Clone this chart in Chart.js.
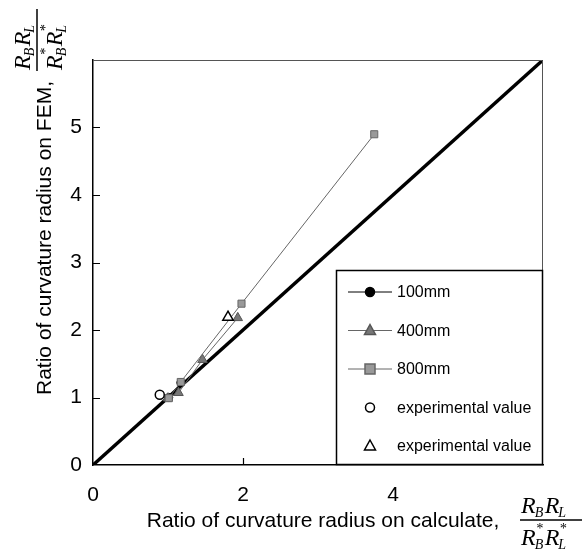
<!DOCTYPE html>
<html lang="en">
<head>
    <meta charset="UTF-8">
    <title>Ratio of curvature radius</title>
    <script src="https://cdn.jsdelivr.net/npm/chart.js"></script>
    <style>
        html, body { margin: 0; padding: 0; background: #fff; }
        #wrap { width: 587px; height: 556px; position: relative; }
    </style>
</head>
<body>
    <div id="wrap"><canvas id="myChart"></canvas></div>

    <script>
        // values (x = calculated ratio, y = FEM ratio)
        var diagX = [0, 6];
        var diagY = [0, 6];
        var x100 = [1.01, 1.17];
        var y100 = [1.00, 1.22];
        var x400 = [1.00, 1.14, 1.46, 1.93];
        var y400 = [0.99, 1.07, 1.56, 2.18];
        var x800 = [1.01, 1.17, 1.98, 3.75];
        var y800 = [0.99, 1.23, 2.39, 4.90];
        var xExpCircle = [0.89];
        var yExpCircle = [1.04];
        var xExpTri = [1.80];
        var yExpTri = [2.19];
        var seriesNames = ['100mm', '400mm', '800mm', 'experimental value', 'experimental value'];
        var xTicks = [0, 2, 4];
        var yTicks = [0, 1, 2, 3, 4, 5];

        function pts(xs, ys) {
            return xs.map(function (x, i) { return { x: x, y: ys[i] }; });
        }

        // R_B R_L / R*_B R*_L drawn around (0,0) = middle of the fraction bar
        function drawFrac(ctx) {
            var big = 'italic 24px "Liberation Serif", serif';
            var small = 'italic 14px "Liberation Serif", serif';
            var parts = function (y, star) {
                var x = -30;
                ctx.font = big; ctx.fillText('R', x, y); x += ctx.measureText('R').width;
                if (star) { ctx.font = small; ctx.fillText('*', x, y - 12); }
                ctx.font = small; ctx.fillText('B', x - 1, y + 4); x += 9;
                ctx.font = big; ctx.fillText('R', x, y); x += ctx.measureText('R').width;
                if (star) { ctx.font = small; ctx.fillText('*', x, y - 12); }
                ctx.font = small; ctx.fillText('L', x - 1, y + 4);
            };
            ctx.fillStyle = '#000';
            ctx.textAlign = 'left';
            ctx.textBaseline = 'alphabetic';
            parts(-7, false);
            parts(25, true);
            ctx.strokeStyle = '#000';
            ctx.lineWidth = 1.5;
            ctx.beginPath(); ctx.moveTo(-31, 0); ctx.lineTo(31, 0); ctx.stroke();
        }

        function drawMarker(ctx, style, x, y, fill, stroke) {
            ctx.save();
            ctx.fillStyle = fill; ctx.strokeStyle = stroke; ctx.lineWidth = 1.5;
            ctx.beginPath();
            if (style === 'circle') {
                ctx.arc(x, y, 4.5, 0, Math.PI * 2);
            } else if (style === 'triangle') {
                ctx.moveTo(x, y - 6); ctx.lineTo(x + 5.5, y + 4); ctx.lineTo(x - 5.5, y + 4); ctx.closePath();
            } else {
                ctx.rect(x - 5, y - 5, 10, 10);
            }
            ctx.fill(); ctx.stroke();
            ctx.restore();
        }

        var extras = {
            id: 'extras',
            afterDraw: function (chart) {
                var ctx = chart.ctx;
                var a = chart.chartArea;
                var xs = chart.scales.x, ys = chart.scales.y;
                ctx.save();

                // frame top / right
                ctx.strokeStyle = '#555';
                ctx.lineWidth = 1;
                ctx.beginPath();
                ctx.moveTo(a.left, a.top + 0.5); ctx.lineTo(a.right - 0.5, a.top + 0.5); ctx.lineTo(a.right - 0.5, a.bottom);
                ctx.stroke();

                // inward tick marks
                ctx.strokeStyle = '#000';
                ctx.lineWidth = 1.2;
                ctx.beginPath();
                yTicks.slice(1).forEach(function (v) {
                    var py = Math.round(ys.getPixelForValue(v)) + 0.5;
                    ctx.moveTo(a.left, py); ctx.lineTo(a.left + 7, py);
                });
                xTicks.slice(1).forEach(function (v) {
                    var px = Math.round(xs.getPixelForValue(v)) + 0.5;
                    ctx.moveTo(px, a.bottom); ctx.lineTo(px, a.bottom - 7);
                });
                ctx.stroke();

                // legend box inside plot
                var lx = 336, ly = 270;
                ctx.fillStyle = '#fff';
                ctx.fillRect(lx, ly, a.right - lx, a.bottom - ly);
                ctx.strokeStyle = '#000';
                ctx.lineWidth = 1.5;
                ctx.strokeRect(lx + 0.5, ly + 0.5, a.right - lx - 1, a.bottom - ly - 1);
                ctx.font = '16px "Liberation Sans", Arial, sans-serif';
                ctx.textBaseline = 'middle';
                ctx.textAlign = 'left';
                var rows = [
                    { line: '#000', m: 'circle', fill: '#000', stroke: '#000' },
                    { line: '#666', m: 'triangle', fill: '#777', stroke: '#555' },
                    { line: '#666', m: 'rect', fill: '#999', stroke: '#666' },
                    { line: null, m: 'circle', fill: '#fff', stroke: '#000' },
                    { line: null, m: 'triangle', fill: '#fff', stroke: '#000' }
                ];
                rows.forEach(function (r, i) {
                    var ry = 292 + i * 38.5;
                    if (r.line) {
                        ctx.strokeStyle = r.line; ctx.lineWidth = 1;
                        ctx.beginPath(); ctx.moveTo(348, ry); ctx.lineTo(392, ry); ctx.stroke();
                    }
                    drawMarker(ctx, r.m, 370, ry, r.fill, r.stroke);
                    ctx.fillStyle = '#000';
                    ctx.fillText(seriesNames[i], 397, ry + 1);
                });

                // x title
                ctx.font = '21px "Liberation Sans", Arial, sans-serif';
                ctx.fillStyle = '#000';
                ctx.textAlign = 'center';
                ctx.textBaseline = 'middle';
                ctx.fillText('Ratio of curvature radius on calculate,', 323, 521);
                ctx.save(); ctx.translate(551, 520); drawFrac(ctx); ctx.restore();

                // y title
                ctx.save();
                ctx.translate(45, 238);
                ctx.rotate(-Math.PI / 2);
                ctx.font = '21px "Liberation Sans", Arial, sans-serif';
                ctx.fillStyle = '#000';
                ctx.textAlign = 'center';
                ctx.textBaseline = 'middle';
                ctx.fillText('Ratio of curvature radius on FEM,', 0, 0);
                ctx.restore();
                ctx.save(); ctx.translate(37, 40); ctx.rotate(-Math.PI / 2); drawFrac(ctx); ctx.restore();

                ctx.restore();
            }
        };

        var ctx = document.getElementById('myChart').getContext('2d');
        var myChart = new Chart(ctx, {
            type: 'scatter',
            data: {
                datasets: [
                    { label: seriesNames[4], data: pts(xExpTri, yExpTri), order: 0, pointStyle: 'triangle', pointRadius: 6, backgroundColor: '#fff', borderColor: '#000', borderWidth: 1.5, showLine: false },
                    { label: seriesNames[3], data: pts(xExpCircle, yExpCircle), order: 1, pointStyle: 'circle', pointRadius: 4.5, backgroundColor: '#fff', borderColor: '#000', borderWidth: 1.5, showLine: false },
                    { label: seriesNames[2], data: pts(x800, y800), order: 2, showLine: true, borderColor: '#666', borderWidth: 1, pointStyle: 'rect', pointRadius: 5, pointBackgroundColor: '#999', pointBorderColor: '#666', pointBorderWidth: 1 },
                    { label: seriesNames[1], data: pts(x400, y400), order: 3, showLine: true, borderColor: '#666', borderWidth: 1, pointStyle: 'triangle', pointRadius: 5.5, pointBackgroundColor: '#777', pointBorderColor: '#555', pointBorderWidth: 1 },
                    { label: seriesNames[0], data: pts(x100, y100), order: 4, showLine: true, borderColor: '#000', borderWidth: 1, pointStyle: 'circle', pointRadius: 4, pointBackgroundColor: '#000', pointBorderColor: '#000' },
                    { label: 'diagonal', data: pts(diagX, diagY), order: 5, showLine: true, borderColor: '#000', borderWidth: 3.5, pointRadius: 0 }
                ]
            },
            options: {
                responsive: true,
                maintainAspectRatio: false,
                animation: false,
                layout: { padding: { top: 60, right: 44, left: 0, bottom: 0 } },
                plugins: { legend: { display: false }, tooltip: { enabled: false } },
                scales: {
                    x: {
                        type: 'linear', min: 0, max: 6,
                        afterBuildTicks: function (s) { s.ticks = xTicks.concat([6]).map(function (v) { return { value: v }; }); },
                        afterFit: function (s) { s.height = 91; },
                        grid: { drawOnChartArea: false, drawTicks: false },
                        border: { color: '#000', width: 1.5 },
                        ticks: {
                            padding: 18, color: '#000', maxRotation: 0,
                            font: { family: '"Liberation Sans", Arial, sans-serif', size: 21 },
                            callback: function (v) { return xTicks.indexOf(v) >= 0 ? String(v) : ''; }
                        }
                    },
                    y: {
                        type: 'linear', min: 0, max: 6,
                        afterBuildTicks: function (s) { s.ticks = yTicks.concat([6]).map(function (v) { return { value: v }; }); },
                        afterFit: function (s) { s.width = 93; },
                        grid: { drawOnChartArea: false, drawTicks: false },
                        border: { color: '#000', width: 1.5 },
                        ticks: {
                            padding: 11, color: '#000',
                            font: { family: '"Liberation Sans", Arial, sans-serif', size: 21 },
                            callback: function (v) { return yTicks.indexOf(v) >= 0 ? String(v) : ''; }
                        }
                    }
                }
            },
            plugins: [extras]
        });
    </script>
</body>
</html>
